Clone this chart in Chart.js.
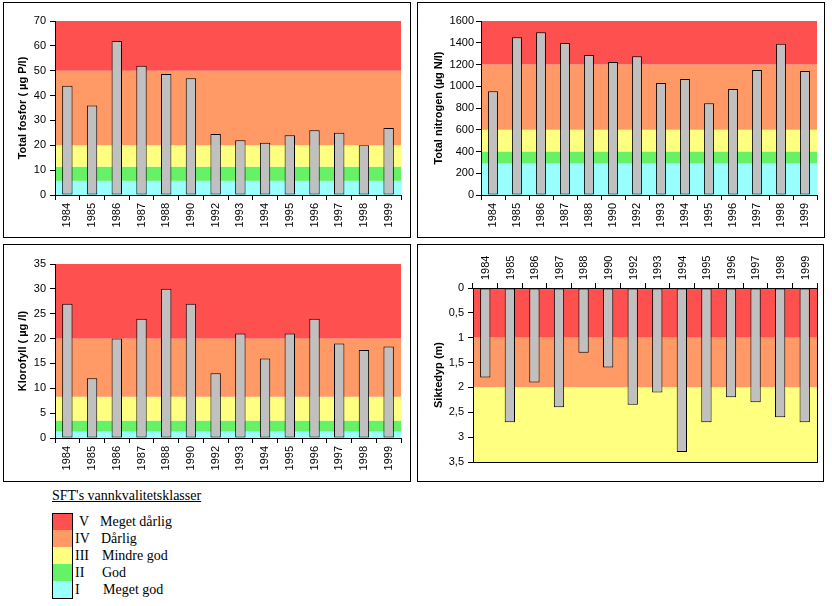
<!DOCTYPE html>
<html>
<head>
<meta charset="utf-8">
<script src="https://cdn.jsdelivr.net/npm/chart.js@4.4.0/dist/chart.umd.min.js"></script>
<style>
  html, body { margin: 0; padding: 0; background: #fff; width: 832px; height: 606px; overflow: hidden; }
  .panel { position: absolute; border: 1px solid #000; background: #fff; }
  .panel canvas { display: block; }
  #legend { position: absolute; left: 0; top: 0; font-family: "Liberation Serif", "Times New Roman", serif; color: #000; }
  #legTitle { position: absolute; left: 52px; top: 488px; font-size: 14px; text-decoration: underline; white-space: nowrap; }
  .row { position: absolute; left: 52px; height: 17px; width: 200px; font-size: 14px; white-space: nowrap; }
  .sw { position: absolute; left: 0; top: 0; width: 19px; height: 16px; border: 1px solid #000; }
  .num { position: absolute; top: 0; line-height: 17px; }
  .name { position: absolute; top: 0; line-height: 17px; }
</style>
</head>
<body>
<div class="panel" style="left:3px;top:2px;width:406px;height:234px"><canvas id="c1" width="406" height="234"></canvas></div>
<div class="panel" style="left:417px;top:2px;width:406px;height:234px"><canvas id="c2" width="406" height="234"></canvas></div>
<div class="panel" style="left:3px;top:244px;width:406px;height:236px"><canvas id="c3" width="406" height="236"></canvas></div>
<div class="panel" style="left:417px;top:244px;width:405px;height:236px"><canvas id="c4" width="405" height="236"></canvas></div>
<div id="legend"></div>
<script>
// ---- data ----
const years = ['1984','1985','1986','1987','1988','1990','1992','1993','1994','1995','1996','1997','1998','1999'];
const fosfor = [44, 36, 62, 52, 48.7, 47, 24.5, 22, 21, 24, 26, 25, 20, 27];
const nitrogen = [955, 1450, 1497, 1398, 1287, 1222, 1276, 1030, 1066, 844, 975, 1150, 1390, 1140];
const klorofyll = [27, 12, 20, 24, 30, 27, 13, 21, 16, 21, 24, 19, 17.7, 18.4];
const siktedyp = [1.8, 2.7, 1.9, 2.4, 1.3, 1.6, 2.35, 2.1, 3.3, 2.7, 2.2, 2.3, 2.6, 2.7];

// class boundaries (upper limit of each class, from class I upward)
const fosforLimits = [5.7, 11.4, 20, 50, 70];
const nitrogenLimits = [290, 400, 600, 1200, 1600];
const klorofyllLimits = [1.3, 3.5, 8.3, 20, 35];
// siktedyp: from the surface downward: V, IV, III
const siktedypLimits = [1, 2, 3.5];

const classNames = ['Meget dårlig', 'Dårlig', 'Mindre god', 'God', 'Meget god'];
const classNumerals = ['V', 'IV', 'III', 'II', 'I'];

const C_I = '#99FFFF', C_II = '#66F266', C_III = '#FFFF80', C_IV = '#FF9966', C_V = '#FF5050';
const classColors = [C_V, C_IV, C_III, C_II, C_I];

const FONT = '"Liberation Sans", Arial, sans-serif';

const bandPlugin = {
  id: 'bands',
  beforeDraw(chart, args, opts) {
    const { ctx, chartArea: a, scales } = chart;
    const y = scales.y;
    let prev = 0;
    ctx.save();
    opts.limits.forEach((lim, i) => {
      const p1 = y.getPixelForValue(prev);
      const p2 = y.getPixelForValue(lim);
      ctx.fillStyle = opts.colors[i];
      ctx.fillRect(a.left, Math.min(p1, p2), a.right - a.left, Math.abs(p2 - p1));
      prev = lim;
    });
    ctx.restore();
  },
  afterDraw(chart, args, opts) {
    if (!opts.frame) return;
    const { ctx, chartArea: a } = chart;
    ctx.save();
    ctx.strokeStyle = '#000';
    ctx.lineWidth = 1;
    ctx.strokeRect(Math.round(a.left) + 0.5, Math.round(a.top) + 0.5, Math.round(a.right - a.left), Math.round(a.bottom - a.top));
    ctx.restore();
  }
};

function make(id, cfg) {
  const ctx = document.getElementById(id);
  return new Chart(ctx, {
    type: 'bar',
    data: {
      labels: years,
      datasets: [{
        data: cfg.data,
        backgroundColor: '#C0C0C0',
        borderColor: '#000',
        borderWidth: 1,
        borderSkipped: false,
        barPercentage: cfg.barPct,
        categoryPercentage: 1
      }]
    },
    plugins: [bandPlugin],
    options: {
      responsive: false,
      animation: false,
      devicePixelRatio: 1,
      layout: { padding: cfg.padding },
      plugins: {
        legend: { display: false },
        tooltip: { enabled: false },
        bands: { limits: cfg.limits, colors: cfg.colors, frame: !!cfg.frame }
      },
      scales: {
        x: {
          position: cfg.xPos,
          offset: true,
          grid: { display: true, drawOnChartArea: false, drawTicks: true, tickLength: 5, offset: true, color: '#000', lineWidth: 1 },
          border: { display: true, color: '#000', width: 1 },
          ticks: { color: '#000', font: { family: FONT, size: 11 }, minRotation: 90, maxRotation: 90, autoSkip: false, padding: 3, labelOffset: cfg.labelOffset || 0 },
          afterFit(s) { s.height = cfg.xHeight; }
        },
        y: {
          min: 0, max: cfg.max,
          reverse: !!cfg.reverse,
          grid: { display: true, drawOnChartArea: false, drawTicks: true, tickLength: 5, color: '#000', lineWidth: 1 },
          border: { display: true, color: '#000', width: 1 },
          ticks: {
            stepSize: cfg.step, color: '#000', font: { family: FONT, size: 11 }, padding: cfg.tickPad,
            callback: (v) => String(Math.round(v * 100) / 100).replace('.', ',')
          },
          title: { display: true, text: cfg.title, color: '#000', font: { family: FONT, size: 11, weight: 'bold' }, padding: { top: cfg.titlePad, bottom: 0 } },
          afterFit(s) { s.width = cfg.yWidth; }
        }
      }
    }
  });
}

make('c1', { data: fosfor, limits: fosforLimits, colors: [C_I, C_II, C_III, C_IV, C_V], max: 70, step: 10,
  title: 'Total fosfor ( µg P/l)', xPos: 'bottom', padding: { top: 18, right: 9, left: 0, bottom: 0 },
  yWidth: 51, xHeight: 42, titlePad: 12, tickPad: 4, barPct: 0.42 });
make('c2', { data: nitrogen, limits: nitrogenLimits, colors: [C_I, C_II, C_III, C_IV, C_V], max: 1600, step: 200,
  title: 'Total nitrogen (µg N/l)', xPos: 'bottom', padding: { top: 18, right: 7, left: 0, bottom: 0 },
  yWidth: 63, xHeight: 42, titlePad: 14, tickPad: 2, barPct: 0.41 });
make('c3', { data: klorofyll, limits: klorofyllLimits, colors: [C_I, C_II, C_III, C_IV, C_V], max: 35, step: 5,
  title: 'Klorofyll ( µg /l)', xPos: 'bottom', padding: { top: 19, right: 9, left: 0, bottom: 0 },
  yWidth: 51, xHeight: 43, titlePad: 12, tickPad: 4, barPct: 0.42 });
make('c4', { data: siktedyp, limits: siktedypLimits, colors: [C_V, C_IV, C_III], max: 3.5, step: 0.5, reverse: true,
  title: 'Siktedyp (m)', xPos: 'top', padding: { top: 0, right: 6, left: 0, bottom: 19 },
  yWidth: 55, xHeight: 43, titlePad: 14, tickPad: 4, barPct: 0.42, frame: true, labelOffset: 14 });

// ---- legend ----
const leg = document.getElementById('legend');
const t = document.createElement('div');
t.id = 'legTitle';
t.textContent = "SFT's vannkvalitetsklasser";
leg.appendChild(t);
const numX = [27, 23, 23, 23, 23];
const nameX = [48, 49, 50, 50, 51];
classNames.forEach((nm, i) => {
  const r = document.createElement('div');
  r.className = 'row';
  r.style.top = (513 + i * 17) + 'px';
  const sw = document.createElement('div');
  sw.className = 'sw';
  sw.style.background = classColors[i];
  if (i > 0) { sw.style.borderTop = 'none'; sw.style.top = '0px'; sw.style.height = '17px'; }
  r.appendChild(sw);
  const n = document.createElement('span');
  n.className = 'num'; n.style.left = numX[i] + 'px'; n.textContent = classNumerals[i];
  r.appendChild(n);
  const m = document.createElement('span');
  m.className = 'name'; m.style.left = nameX[i] + 'px'; m.textContent = nm;
  r.appendChild(m);
  leg.appendChild(r);
});
</script>
</body>
</html>
